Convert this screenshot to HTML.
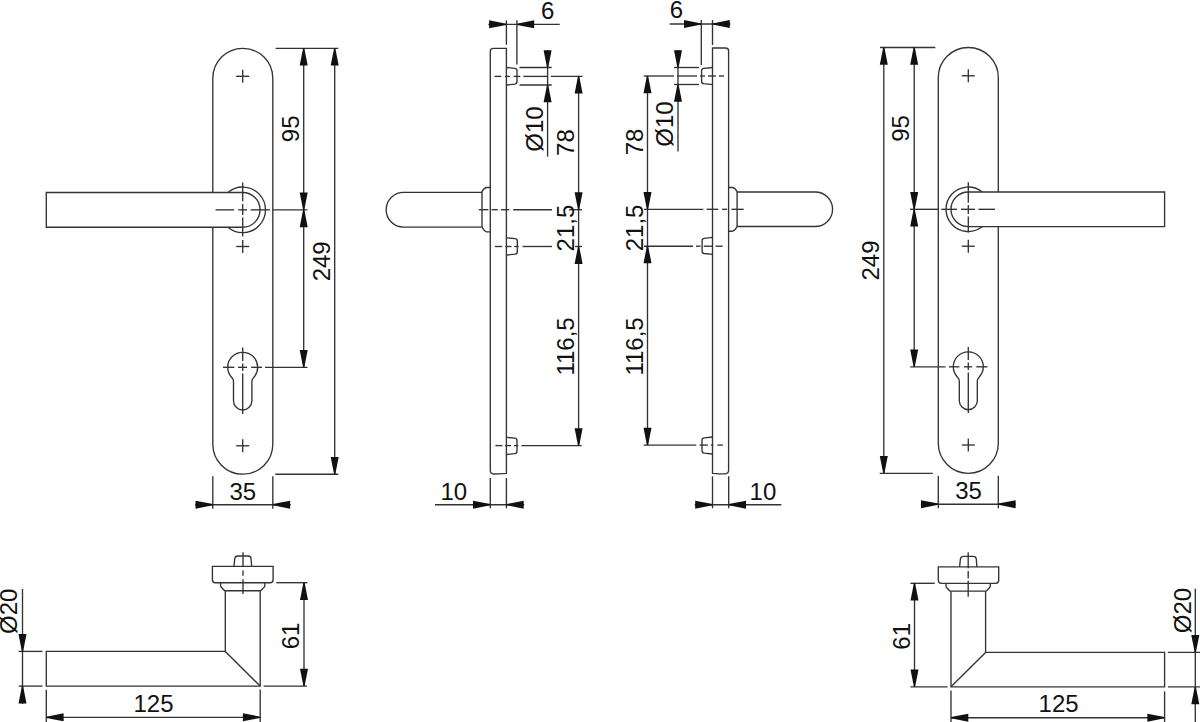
<!DOCTYPE html>
<html><head><meta charset="utf-8"><style>
html,body{margin:0;padding:0;background:#fff;}
svg{display:block;}
text{font-family:"Liberation Sans",sans-serif;font-size:24px;fill:#111;stroke:#111;stroke-width:0.0px;}
</style></head><body>
<svg width="1200" height="722" viewBox="0 0 1200 722">
<rect width="1200" height="722" fill="#fff"/>
<g fill="none" stroke="#333" stroke-width="1.35" stroke-linecap="butt">
<path d="M212.8,192.5 L212.8,78.3 A30,30 0 0 1 272.8,78.3 L272.8,444.2 A30,30 0 0 1 212.8,444.2 L212.8,227.2"/>
<path d="M46.3,192.5 L242.7,192.5 A17.349999999999994,17.349999999999994 0 0 1 242.7,227.2 L46.3,227.2 Z"/>
<path d="M227.91,192.5 A22.8,22.8 0 1 1 227.91,227.2"/>
<line x1="236.20" y1="76.30" x2="249.20" y2="76.30"/>
<line x1="242.70" y1="69.80" x2="242.70" y2="82.80"/>
<line x1="236.20" y1="246.50" x2="249.20" y2="246.50"/>
<line x1="242.70" y1="240.00" x2="242.70" y2="253.00"/>
<line x1="236.20" y1="445.80" x2="249.20" y2="445.80"/>
<line x1="242.70" y1="439.30" x2="242.70" y2="452.30"/>
<line x1="215.50" y1="209.85" x2="234.10" y2="209.85"/>
<line x1="238.30" y1="209.85" x2="247.00" y2="209.85"/>
<line x1="250.70" y1="209.85" x2="269.90" y2="209.85"/>
<line x1="242.70" y1="182.50" x2="242.70" y2="201.20"/>
<line x1="242.70" y1="204.00" x2="242.70" y2="214.90"/>
<line x1="242.70" y1="217.40" x2="242.70" y2="236.60"/>
<path d="M231.72,377.52 Q233.50,379.15 233.50,381.35 L233.50,400.80 A9.2,9.2 0 0 0 251.90,400.80 L251.90,381.35 Q251.90,379.15 253.68,377.52 A15,15 0 1 0 231.72,377.52"/>
<line x1="223.00" y1="367.30" x2="234.30" y2="367.30"/>
<line x1="238.00" y1="367.30" x2="247.00" y2="367.30"/>
<line x1="251.10" y1="367.30" x2="262.00" y2="367.30"/>
<line x1="242.70" y1="347.50" x2="242.70" y2="361.00"/>
<line x1="242.70" y1="363.50" x2="242.70" y2="371.00"/>
<line x1="242.70" y1="373.50" x2="242.70" y2="414.00"/>
<line x1="275.60" y1="48.30" x2="338.30" y2="48.30"/>
<line x1="272.80" y1="209.85" x2="307.50" y2="209.85"/>
<line x1="265.00" y1="367.30" x2="307.50" y2="367.30"/>
<line x1="275.30" y1="474.20" x2="338.30" y2="474.20"/>
<line x1="303.70" y1="48.30" x2="303.70" y2="367.30"/>
<polygon points="303.10,48.30 304.30,48.30 307.70,65.60 299.70,65.60" fill="#111" stroke="none"/>
<polygon points="303.10,209.85 304.30,209.85 307.70,192.55 299.70,192.55" fill="#111" stroke="none"/>
<polygon points="303.10,209.85 304.30,209.85 307.70,227.15 299.70,227.15" fill="#111" stroke="none"/>
<polygon points="303.10,367.30 304.30,367.30 307.70,350.00 299.70,350.00" fill="#111" stroke="none"/>
<line x1="334.70" y1="48.30" x2="334.70" y2="474.20"/>
<polygon points="334.10,48.30 335.30,48.30 338.70,65.60 330.70,65.60" fill="#111" stroke="none"/>
<polygon points="334.10,474.20 335.30,474.20 338.70,456.90 330.70,456.90" fill="#111" stroke="none"/>
<text transform="translate(299.10,142.16) rotate(-90) scale(1,1.0167)">95</text>
<text transform="translate(330.00,281.31) rotate(-90) scale(1,1.0167)">249</text>
<line x1="212.80" y1="476.30" x2="212.80" y2="508.70"/>
<line x1="272.80" y1="476.30" x2="272.80" y2="508.70"/>
<line x1="195.00" y1="504.70" x2="290.80" y2="504.70"/>
<polygon points="212.80,504.10 212.80,505.30 195.50,508.70 195.50,500.70" fill="#111" stroke="none"/>
<polygon points="272.80,504.10 272.80,505.30 290.10,508.70 290.10,500.70" fill="#111" stroke="none"/>
<text transform="translate(229.45,499.60) scale(1,1.0167)">35</text>
<path d="M490.3,470.4 L490.3,51.3 Q490.3,48.3 493.3,48.3 L506.4,48.3 L506.4,473.4 Q498.3,474.0 493.8,474.0 Q490.3,473.7 490.3,470.4"/>
<path d="M506.4,67.5 L514.80,68.40 Q517.0,68.70 517.0,70.70 L517.0,81.80 Q517.0,83.80 514.80,84.10 L506.4,85"/>
<path d="M506.4,237.8 L515.10,238.70 Q517.3,239.00 517.3,241.00 L517.3,251.90 Q517.3,253.90 515.10,254.20 L506.4,255.1"/>
<path d="M506.4,437.3 L514.80,438.20 Q517.0,438.50 517.0,440.50 L517.0,451.30 Q517.0,453.30 514.80,453.60 L506.4,454.5"/>
<path d="M490.3,187.5 L486.6,187.5 Q484,187.8 482,191.6 L482,227 Q484,231.2 486.6,231.8 L490.3,231.8"/>
<path d="M482,192.4 L403.5,192.4 A17.35,17.35 0 0 0 403.5,227.1 L482,227.1"/>
<line x1="494.50" y1="76.40" x2="501.20" y2="76.40"/>
<line x1="505.00" y1="76.40" x2="509.80" y2="76.40"/>
<line x1="513.60" y1="76.40" x2="520.30" y2="76.40"/>
<line x1="523.40" y1="76.40" x2="547.00" y2="76.40"/>
<line x1="550.80" y1="76.40" x2="582.50" y2="76.40"/>
<line x1="478.90" y1="209.70" x2="488.30" y2="209.70"/>
<line x1="491.60" y1="209.70" x2="497.70" y2="209.70"/>
<line x1="501.00" y1="209.70" x2="509.30" y2="209.70"/>
<line x1="513.20" y1="209.70" x2="552.00" y2="209.70"/>
<line x1="569.00" y1="209.70" x2="582.00" y2="209.70"/>
<line x1="494.90" y1="246.50" x2="502.10" y2="246.50"/>
<line x1="505.40" y1="246.50" x2="511.50" y2="246.50"/>
<line x1="514.30" y1="246.50" x2="518.70" y2="246.50"/>
<line x1="522.60" y1="246.50" x2="552.00" y2="246.50"/>
<line x1="575.00" y1="246.50" x2="582.00" y2="246.50"/>
<line x1="495.40" y1="445.60" x2="502.40" y2="445.60"/>
<line x1="504.90" y1="445.60" x2="511.10" y2="445.60"/>
<line x1="514.00" y1="445.60" x2="518.20" y2="445.60"/>
<line x1="521.50" y1="445.60" x2="581.70" y2="445.60"/>
<line x1="506.40" y1="20.30" x2="506.40" y2="44.70"/>
<line x1="516.90" y1="20.30" x2="516.90" y2="64.40"/>
<line x1="488.30" y1="24.30" x2="559.70" y2="24.30"/>
<polygon points="506.40,23.70 506.40,24.90 489.10,28.30 489.10,20.30" fill="#111" stroke="none"/>
<polygon points="516.90,23.70 516.90,24.90 534.20,28.30 534.20,20.30" fill="#111" stroke="none"/>
<text transform="translate(540.99,18.60) scale(1,1.0167)">6</text>
<line x1="519.50" y1="67.50" x2="551.70" y2="67.50"/>
<line x1="519.50" y1="85.00" x2="551.70" y2="85.00"/>
<line x1="547.60" y1="50.00" x2="547.60" y2="156.60"/>
<polygon points="547.00,67.50 548.20,67.50 551.60,50.20 543.60,50.20" fill="#111" stroke="none"/>
<polygon points="547.00,85.00 548.20,85.00 551.60,102.30 543.60,102.30" fill="#111" stroke="none"/>
<text transform="translate(542.50,151.63) rotate(-90) scale(1,1.0167)">Ø10</text>
<line x1="578.60" y1="76.30" x2="578.60" y2="445.50"/>
<polygon points="578.00,76.30 579.20,76.30 582.60,93.60 574.60,93.60" fill="#111" stroke="none"/>
<polygon points="578.00,209.60 579.20,209.60 582.60,192.30 574.60,192.30" fill="#111" stroke="none"/>
<polygon points="578.00,246.60 579.20,246.60 582.60,263.90 574.60,263.90" fill="#111" stroke="none"/>
<polygon points="578.00,445.50 579.20,445.50 582.60,428.20 574.60,428.20" fill="#111" stroke="none"/>
<text transform="translate(573.90,155.94) rotate(-90) scale(1,1.0167)">78</text>
<text transform="translate(573.90,251.46) rotate(-90) scale(1,1.0167)">21,5</text>
<text transform="translate(573.60,375.59) rotate(-90) scale(1,1.0167)">116,5</text>
<line x1="490.30" y1="478.00" x2="490.30" y2="508.30"/>
<line x1="506.40" y1="478.00" x2="506.40" y2="508.30"/>
<line x1="435.00" y1="504.70" x2="524.20" y2="504.70"/>
<polygon points="490.30,504.10 490.30,505.30 473.00,508.70 473.00,500.70" fill="#111" stroke="none"/>
<polygon points="506.40,504.10 506.40,505.30 523.70,508.70 523.70,500.70" fill="#111" stroke="none"/>
<text transform="translate(440.46,499.65) scale(1,1.0167)">10</text>
<path d="M728.6,470.3 L728.6,51 Q728.6,48 725.6,48 L712.5,48 L712.5,473.3 Q720.6,473.90000000000003 725.1,473.90000000000003 Q728.6,473.6 728.6,470.3"/>
<path d="M712.5,67.5 L703.80,68.40 Q701.6,68.70 701.6,70.70 L701.6,81.40 Q701.6,83.40 703.80,83.70 L712.5,84.6"/>
<path d="M712.5,237.4 L704.30,238.30 Q702.1,238.60 702.1,240.60 L702.1,251.20 Q702.1,253.20 704.30,253.50 L712.5,254.4"/>
<path d="M712.5,437.0 L704.20,437.90 Q702.0,438.20 702.0,440.20 L702.0,450.80 Q702.0,452.80 704.20,453.10 L712.5,454.0"/>
<path d="M728.6,187.5 L732.6,187.5 Q735,187.8 737.1,191.6 L737.1,226.5 Q735,230.8 732.6,231.2 L728.6,231.2"/>
<path d="M737.1,192.0 L815.3,192.0 A17.25,17.25 0 0 1 815.3,226.5 L737.1,226.5"/>
<line x1="643.70" y1="76.00" x2="674.00" y2="76.00"/>
<line x1="677.00" y1="76.00" x2="697.00" y2="76.00"/>
<line x1="700.00" y1="76.00" x2="705.00" y2="76.00"/>
<line x1="708.00" y1="76.00" x2="716.00" y2="76.00"/>
<line x1="719.00" y1="76.00" x2="724.00" y2="76.00"/>
<line x1="644.00" y1="209.30" x2="703.30" y2="209.30"/>
<line x1="706.60" y1="209.30" x2="718.20" y2="209.30"/>
<line x1="722.10" y1="209.30" x2="727.10" y2="209.30"/>
<line x1="731.50" y1="209.30" x2="743.70" y2="209.30"/>
<line x1="644.00" y1="246.20" x2="693.00" y2="246.20"/>
<line x1="696.00" y1="246.20" x2="700.50" y2="246.20"/>
<line x1="703.80" y1="246.20" x2="712.10" y2="246.20"/>
<line x1="715.50" y1="246.20" x2="722.70" y2="246.20"/>
<line x1="643.70" y1="445.10" x2="696.20" y2="445.10"/>
<line x1="699.60" y1="445.10" x2="707.90" y2="445.10"/>
<line x1="710.80" y1="445.10" x2="713.30" y2="445.10"/>
<line x1="717.40" y1="445.10" x2="722.80" y2="445.10"/>
<line x1="701.30" y1="20.00" x2="701.30" y2="65.00"/>
<line x1="712.50" y1="20.00" x2="712.50" y2="45.00"/>
<line x1="669.70" y1="24.00" x2="730.50" y2="24.00"/>
<polygon points="701.30,23.40 701.30,24.60 684.00,28.00 684.00,20.00" fill="#111" stroke="none"/>
<polygon points="712.50,23.40 712.50,24.60 729.80,28.00 729.80,20.00" fill="#111" stroke="none"/>
<text transform="translate(669.64,17.90) scale(1,1.0167)">6</text>
<line x1="674.00" y1="67.50" x2="699.00" y2="67.50"/>
<line x1="674.00" y1="84.50" x2="699.00" y2="84.50"/>
<line x1="678.00" y1="50.00" x2="678.00" y2="151.60"/>
<polygon points="677.40,67.50 678.60,67.50 682.00,50.20 674.00,50.20" fill="#111" stroke="none"/>
<polygon points="677.40,84.50 678.60,84.50 682.00,101.80 674.00,101.80" fill="#111" stroke="none"/>
<text transform="translate(672.50,146.63) rotate(-90) scale(1,1.0167)">Ø10</text>
<line x1="647.50" y1="76.00" x2="647.50" y2="445.00"/>
<polygon points="646.90,76.00 648.10,76.00 651.50,93.30 643.50,93.30" fill="#111" stroke="none"/>
<polygon points="646.90,209.40 648.10,209.40 651.50,192.10 643.50,192.10" fill="#111" stroke="none"/>
<polygon points="646.90,246.00 648.10,246.00 651.50,263.30 643.50,263.30" fill="#111" stroke="none"/>
<polygon points="646.90,445.00 648.10,445.00 651.50,427.70 643.50,427.70" fill="#111" stroke="none"/>
<text transform="translate(642.90,155.24) rotate(-90) scale(1,1.0167)">78</text>
<text transform="translate(643.10,251.26) rotate(-90) scale(1,1.0167)">21,5</text>
<text transform="translate(643.10,375.59) rotate(-90) scale(1,1.0167)">116,5</text>
<line x1="712.50" y1="476.30" x2="712.50" y2="508.30"/>
<line x1="728.70" y1="476.30" x2="728.70" y2="508.30"/>
<line x1="694.70" y1="504.70" x2="781.30" y2="504.70"/>
<polygon points="712.50,504.10 712.50,505.30 695.20,508.70 695.20,500.70" fill="#111" stroke="none"/>
<polygon points="728.70,504.10 728.70,505.30 746.00,508.70 746.00,500.70" fill="#111" stroke="none"/>
<text transform="translate(749.56,499.60) scale(1,1.0167)">10</text>
<path d="M998.3,192.0 L998.3,77.5 A30,30 0 0 0 938.3,77.5 L938.3,443.3 A30,30 0 0 0 998.3,443.3 L998.3,226.6"/>
<path d="M1164.6,192.0 L968.3,192.0 A17.299999999999997,17.299999999999997 0 0 0 968.3,226.6 L1164.6,226.6 Z"/>
<path d="M982.37,192.0 A22.3,22.3 0 1 0 982.37,226.6"/>
<line x1="961.80" y1="75.80" x2="974.80" y2="75.80"/>
<line x1="968.30" y1="69.30" x2="968.30" y2="82.30"/>
<line x1="961.80" y1="246.20" x2="974.80" y2="246.20"/>
<line x1="968.30" y1="239.70" x2="968.30" y2="252.70"/>
<line x1="961.80" y1="445.00" x2="974.80" y2="445.00"/>
<line x1="968.30" y1="438.50" x2="968.30" y2="451.50"/>
<line x1="941.30" y1="209.30" x2="957.00" y2="209.30"/>
<line x1="961.00" y1="209.30" x2="975.00" y2="209.30"/>
<line x1="978.50" y1="209.30" x2="995.00" y2="209.30"/>
<line x1="968.30" y1="182.20" x2="968.30" y2="202.70"/>
<line x1="968.30" y1="205.00" x2="968.30" y2="213.90"/>
<line x1="968.30" y1="216.60" x2="968.30" y2="232.60"/>
<path d="M957.49,377.20 Q959.30,378.80 959.30,381.00 L959.30,400.70 A9.0,9.0 0 0 0 977.30,400.70 L977.30,381.00 Q977.30,378.80 979.11,377.20 A15,15 0 1 0 957.49,377.20"/>
<line x1="948.90" y1="366.80" x2="959.40" y2="366.80"/>
<line x1="963.90" y1="366.80" x2="972.10" y2="366.80"/>
<line x1="976.30" y1="366.80" x2="987.50" y2="366.80"/>
<line x1="968.30" y1="347.00" x2="968.30" y2="360.00"/>
<line x1="968.30" y1="362.50" x2="968.30" y2="370.00"/>
<line x1="968.30" y1="372.50" x2="968.30" y2="413.00"/>
<line x1="880.00" y1="47.50" x2="935.30" y2="47.50"/>
<line x1="910.00" y1="209.30" x2="938.30" y2="209.30"/>
<line x1="910.30" y1="366.80" x2="945.50" y2="366.80"/>
<line x1="879.70" y1="473.30" x2="932.80" y2="473.30"/>
<line x1="914.20" y1="47.50" x2="914.20" y2="366.80"/>
<polygon points="913.60,47.50 914.80,47.50 918.20,64.80 910.20,64.80" fill="#111" stroke="none"/>
<polygon points="913.60,209.30 914.80,209.30 918.20,192.00 910.20,192.00" fill="#111" stroke="none"/>
<polygon points="913.60,209.30 914.80,209.30 918.20,226.60 910.20,226.60" fill="#111" stroke="none"/>
<polygon points="913.60,366.80 914.80,366.80 918.20,349.50 910.20,349.50" fill="#111" stroke="none"/>
<line x1="883.80" y1="47.50" x2="883.80" y2="473.30"/>
<polygon points="883.20,47.50 884.40,47.50 887.80,64.80 879.80,64.80" fill="#111" stroke="none"/>
<polygon points="883.20,473.30 884.40,473.30 887.80,456.00 879.80,456.00" fill="#111" stroke="none"/>
<text transform="translate(909.10,141.76) rotate(-90) scale(1,1.0167)">95</text>
<text transform="translate(879.10,280.51) rotate(-90) scale(1,1.0167)">249</text>
<line x1="938.30" y1="475.80" x2="938.30" y2="508.30"/>
<line x1="998.30" y1="475.80" x2="998.30" y2="508.30"/>
<line x1="920.80" y1="504.20" x2="1015.80" y2="504.20"/>
<polygon points="938.30,503.60 938.30,504.80 921.00,508.20 921.00,500.20" fill="#111" stroke="none"/>
<polygon points="998.30,503.60 998.30,504.80 1015.60,508.20 1015.60,500.20" fill="#111" stroke="none"/>
<text transform="translate(955.20,499.10) scale(1,1.0167)">35</text>
<path d="M234,566.3 L234.8,558.5 Q235.2,556 238,556 L248,556 Q250.8,556 251,558.5 L251.7,566.3"/>
<path d="M212.4,566.3 L273.1,566.3 L273.1,579.7 Q273.1,582.7 270.1,582.7 L215.4,582.7 Q212.4,582.7 212.4,579.7 Z"/>
<path d="M220.6,582.5 L220.6,585.8 Q220.8,586.8 221.6,587.6 L224.2,590.3 Q224.6,590.7 225.6,590.7 L259.8,590.7 Q260.8,590.7 261.2,590.3 L263.8,587.6 Q264.6,586.8 264.8,585.8 L264.8,582.5"/>
<path d="M225.3,590.7 L225.3,651.4 L46.3,651.4 L46.3,686.1 L260.2,686.1 L260.2,590.7"/>
<line x1="225.30" y1="651.40" x2="260.20" y2="686.10"/>
<line x1="243.00" y1="552.20" x2="243.00" y2="567.10"/>
<line x1="243.00" y1="570.50" x2="243.00" y2="575.80"/>
<line x1="243.00" y1="579.30" x2="243.00" y2="594.10"/>
<line x1="18.70" y1="651.40" x2="42.50" y2="651.40"/>
<line x1="18.70" y1="686.10" x2="42.50" y2="686.10"/>
<line x1="22.50" y1="589.00" x2="22.50" y2="704.00"/>
<polygon points="21.90,651.40 23.10,651.40 26.50,634.10 18.50,634.10" fill="#111" stroke="none"/>
<polygon points="21.90,686.10 23.10,686.10 26.50,703.40 18.50,703.40" fill="#111" stroke="none"/>
<text transform="translate(17.00,633.88) rotate(-90) scale(1,1.0167)">Ø20</text>
<line x1="276.30" y1="582.70" x2="307.30" y2="582.70"/>
<line x1="263.60" y1="686.10" x2="307.00" y2="686.10"/>
<line x1="304.00" y1="582.70" x2="304.00" y2="686.10"/>
<polygon points="303.40,582.70 304.60,582.70 308.00,600.00 300.00,600.00" fill="#111" stroke="none"/>
<polygon points="303.40,686.10 304.60,686.10 308.00,668.80 300.00,668.80" fill="#111" stroke="none"/>
<text transform="translate(298.50,649.27) rotate(-90) scale(1,1.0167)">61</text>
<line x1="46.30" y1="689.70" x2="46.30" y2="722.00"/>
<line x1="260.20" y1="689.50" x2="260.20" y2="722.00"/>
<line x1="46.30" y1="717.30" x2="260.20" y2="717.30"/>
<polygon points="46.30,716.70 46.30,717.90 63.60,721.30 63.60,713.30" fill="#111" stroke="none"/>
<polygon points="260.20,716.70 260.20,717.90 242.90,721.30 242.90,713.30" fill="#111" stroke="none"/>
<text transform="translate(133.47,711.90) scale(1,1.0167)">125</text>
<path d="M959.6,566.9 L960.4,559 Q960.8,556.3 963.6,556.3 L973,556.3 Q976,556.3 976.3,559 L976.9,566.9"/>
<path d="M938.3,566.9 L998.7,566.9 L998.7,580.3 Q998.7,583.3 995.7,583.3 L941.3,583.3 Q938.3,583.3 938.3,580.3 Z"/>
<path d="M946,583.1 L946,586.2 Q946.2,587.2 947,588 L949.6,590.7 Q950,591.1 951,591.1 L985.2,591.1 Q986.2,591.1 986.6,590.7 L989.2,588 Q990,587.2 990.3,586.2 L990.3,583.1"/>
<path d="M951,591.3 L951,686.8 L1164.6,686.8 L1164.6,652.4 L985.6,652.4 L985.6,591.3"/>
<line x1="951.00" y1="686.80" x2="985.60" y2="652.40"/>
<line x1="968.20" y1="552.20" x2="968.20" y2="568.20"/>
<line x1="968.20" y1="571.00" x2="968.20" y2="578.50"/>
<line x1="968.20" y1="580.80" x2="968.20" y2="596.80"/>
<line x1="910.40" y1="583.30" x2="934.70" y2="583.30"/>
<line x1="910.40" y1="686.80" x2="947.60" y2="686.80"/>
<line x1="914.50" y1="583.30" x2="914.50" y2="686.80"/>
<polygon points="913.90,583.30 915.10,583.30 918.50,600.60 910.50,600.60" fill="#111" stroke="none"/>
<polygon points="913.90,686.80 915.10,686.80 918.50,669.50 910.50,669.50" fill="#111" stroke="none"/>
<text transform="translate(910.30,649.67) rotate(-90) scale(1,1.0167)">61</text>
<line x1="1167.90" y1="652.40" x2="1200.00" y2="652.40"/>
<line x1="1167.90" y1="686.90" x2="1200.00" y2="686.90"/>
<line x1="1195.30" y1="588.70" x2="1195.30" y2="722.00"/>
<polygon points="1194.70,652.40 1195.90,652.40 1199.30,635.10 1191.30,635.10" fill="#111" stroke="none"/>
<polygon points="1194.70,686.90 1195.90,686.90 1199.30,704.20 1191.30,704.20" fill="#111" stroke="none"/>
<text transform="translate(1191.00,633.13) rotate(-90) scale(1,1.0167)">Ø20</text>
<line x1="951.00" y1="690.40" x2="951.00" y2="722.00"/>
<line x1="1164.60" y1="691.30" x2="1164.60" y2="722.00"/>
<line x1="951.00" y1="717.70" x2="1164.60" y2="717.70"/>
<polygon points="951.00,717.10 951.00,718.30 968.30,721.70 968.30,713.70" fill="#111" stroke="none"/>
<polygon points="1164.60,717.10 1164.60,718.30 1147.30,721.70 1147.30,713.70" fill="#111" stroke="none"/>
<text transform="translate(1038.62,712.00) scale(1,1.0167)">125</text>
</g>
</svg>
</body></html>
